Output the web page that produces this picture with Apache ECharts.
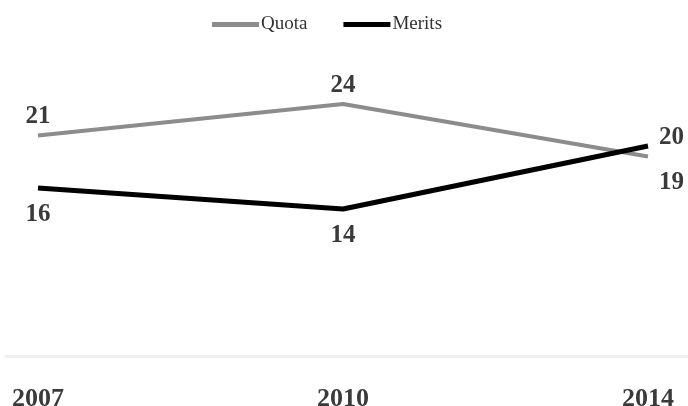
<!DOCTYPE html>
<html>
<head>
<meta charset="utf-8">
<script src="https://cdn.jsdelivr.net/npm/echarts@6/dist/echarts.min.js"></script>
<style>
  html, body { margin: 0; padding: 0; background: #fff; }
  #chart { width: 688px; height: 406px; }
</style>
</head>
<body>
<div id="chart"></div>
<script>
// data
const years = ['2007', '2010', '2014'];
const quota = [21, 24, 19];
const merits = [16, 14, 20];

const serif = '"Liberation Serif", "DejaVu Serif", serif';
const labelStyle = {
  show: true,
  fontFamily: serif,
  fontWeight: 'bold',
  fontSize: 25,
  color: '#3a3a3a'
};

// last point labels sit to the right of the crossing
function withLabels(values, pos, lastOffset) {
  return values.map((v, i) => {
    if (i === values.length - 1) {
      return { value: v, label: { position: 'right', distance: 11, offset: lastOffset } };
    }
    return { value: v, label: { position: pos, distance: pos === 'top' ? 6 : 14 } };
  });
}

const chart = echarts.init(document.getElementById('chart'));
chart.setOption({
  animation: false,
  legend: {
    top: 10,
    left: 207,
    icon: 'rect',
    itemWidth: 47,
    itemHeight: 5,
    itemGap: 36,
    textStyle: { fontFamily: serif, fontSize: 19, color: '#333', padding: [0, 0, 0, -3] },
    data: ['Quota', 'Merits']
  },
  grid: [
    { left: 38, right: 40, top: 41, bottom: 50, outerBoundsMode: 'none' },
    { left: 6, right: 0, top: 41, bottom: 50, outerBoundsMode: 'none' }
  ],
  xAxis: [
    {
      type: 'category',
      gridIndex: 0,
      data: years,
      boundaryGap: false,
      axisLine: { show: false },
      axisTick: { show: false },
      axisLabel: {
        margin: 30,
        fontFamily: serif,
        fontWeight: 'bold',
        fontSize: 26,
        color: '#3a3a3a'
      }
    },
    {
      type: 'value',
      gridIndex: 1,
      axisLine: { show: true, lineStyle: { color: '#efefef', width: 3 } },
      axisTick: { show: false },
      axisLabel: { show: false },
      splitLine: { show: false }
    }
  ],
  yAxis: [
    { type: 'value', gridIndex: 0, min: 0, max: 30, show: false },
    { type: 'value', gridIndex: 1, show: false }
  ],
  series: [
    {
      name: 'Quota',
      type: 'line',
      xAxisIndex: 0,
      yAxisIndex: 0,
      data: withLabels(quota, 'top', [0, 26]),
      symbol: 'circle',
      symbolSize: 0,
      showSymbol: true,
      color: '#8c8c8c',
      lineStyle: { color: '#8c8c8c', width: 4 },
      label: labelStyle
    },
    {
      name: 'Merits',
      type: 'line',
      xAxisIndex: 0,
      yAxisIndex: 0,
      data: withLabels(merits, 'bottom', [0, -8]),
      symbol: 'circle',
      symbolSize: 0,
      showSymbol: true,
      color: '#000',
      lineStyle: { color: '#000', width: 5 },
      label: labelStyle
    }
  ]
});
</script>
</body>
</html>
